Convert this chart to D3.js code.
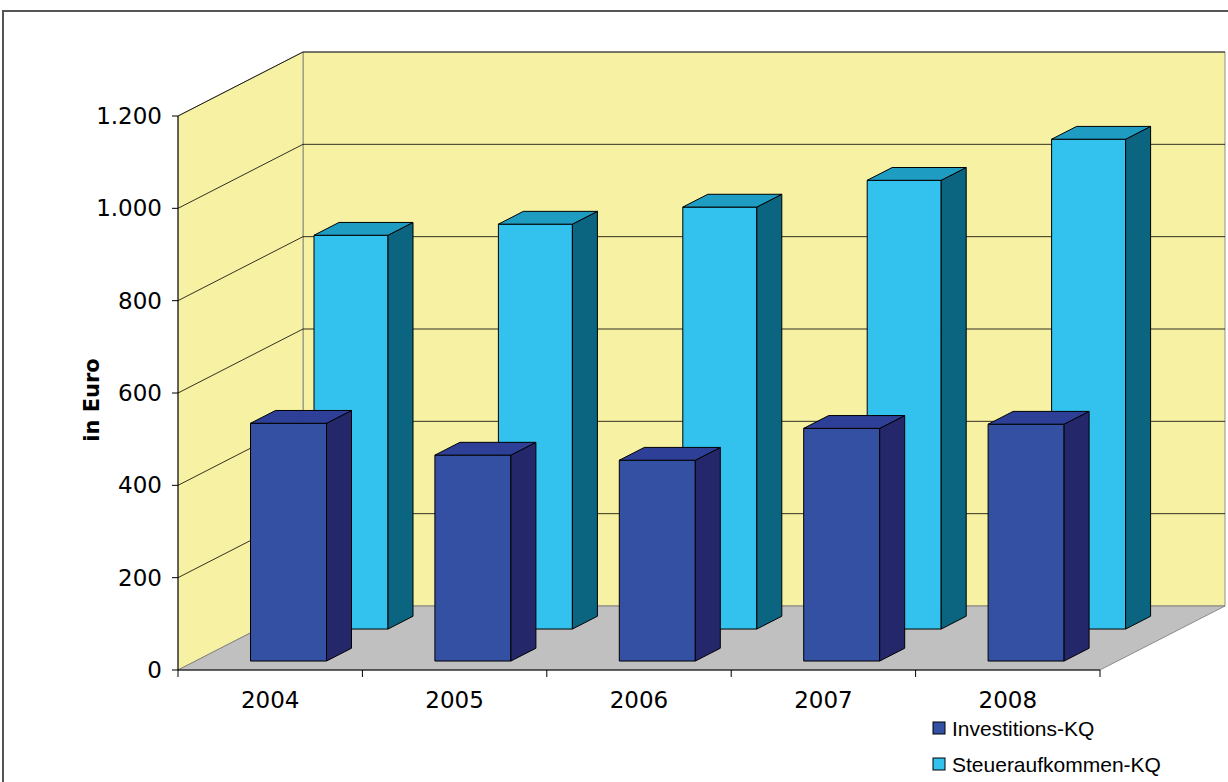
<!DOCTYPE html>
<html><head><meta charset="utf-8">
<script src="https://cdn.jsdelivr.net/npm/d3@7"></script>
<style>body{margin:0;background:#fff}</style>
</head><body>
<svg id="c" width="1228" height="782"></svg>
<script>
var years = ['2004', '2005', '2006', '2007', '2008'];
var investitionsKQ = [515, 446, 435, 504, 513];
var steuerKQ = [853, 877, 914, 972, 1061];
var yTicks = [0, 200, 400, 600, 800, 1000, 1200];
var seriesNames = ['Investitions-KQ', 'Steueraufkommen-KQ'];

var svg = d3.select('#c');
var DX = 125, DY = -64;
var x = d3.scaleBand().domain(years).range([178, 1100]).padding(0);
var y = d3.scaleLinear().domain([0, 1200]).range([670, 116]);
var fmt = function(v) { return d3.format(',')(v).replace(/,/g, '.'); };

// project (screen x at front, value, depth 0..1)
function P(px, v, z) { return [px + z * DX, y(v) + z * DY]; }
function poly(pts, fill) {
    svg.append('polygon').attr('points', pts.map(function(p) { return p.join(','); }).join(' '))
        .attr('fill', fill).attr('stroke', '#000').attr('stroke-width', 1);
}

// frame
svg.append('rect').attr('x', 3).attr('y', 11).attr('width', 1240).attr('height', 800)
    .attr('fill', 'none').attr('stroke', '#555').attr('stroke-width', 2);

// walls
poly([P(178, 0, 1), P(178, 1200, 1), P(1225 - DX, 1200, 1), P(1225 - DX, 0, 1)], '#f6f1a3');
poly([P(178, 0, 0), P(178, 1200, 0), P(178, 1200, 1), P(178, 0, 1)], '#f6f1a3');
poly([P(178, 0, 0), P(1100, 0, 0), P(1100, 0, 1), P(178, 0, 1)], '#c0c0c0');
svg.selectAll('polygon').attr('stroke', '#777').attr('stroke-width', 0.8);

// gridlines
yTicks.slice(1).forEach(function(t) {
    var a = P(178, t, 0), b = P(178, t, 1), c = P(1100, t, 1);
    svg.append('polyline').attr('points', [a, b, c].map(function(p) { return p.join(','); }).join(' '))
        .attr('fill', 'none').attr('stroke', '#000').attr('stroke-width', 0.8);
});

// axes
var ax = svg.append('g');
ax.append('line').attr('x1', 178).attr('x2', 178).attr('y1', y(1200)).attr('y2', y(0)).attr('stroke', '#000');
ax.append('line').attr('x1', 178).attr('x2', 1100).attr('y1', y(0)).attr('y2', y(0)).attr('stroke', '#000');
yTicks.forEach(function(t) {
    ax.append('line').attr('x1', 172).attr('x2', 178).attr('y1', y(t)).attr('y2', y(t)).attr('stroke', '#000');
    ax.append('text').attr('x', 162).attr('y', y(t) + 8).attr('text-anchor', 'end')
        .attr('font-family', 'DejaVu Sans').attr('font-size', 23).text(fmt(t));
});
years.concat(['end']).forEach(function(yr, i) {
    var px = 178 + i * x.bandwidth();
    ax.append('line').attr('x1', px).attr('x2', px).attr('y1', 670).attr('y2', 677).attr('stroke', '#000');
});
years.forEach(function(yr) {
    ax.append('text').attr('x', x(yr) + x.bandwidth() / 2).attr('y', 708).attr('text-anchor', 'middle')
        .attr('font-family', 'DejaVu Sans').attr('font-size', 23).text(yr);
});
svg.append('text').attr('transform', 'translate(99,400) rotate(-90)').attr('text-anchor', 'middle')
    .attr('font-family', 'DejaVu Sans').attr('font-weight', 'bold').attr('font-size', 21).text('in Euro');

function bar(px, w, v, z0, z1, cols) {
    poly([P(px, 0, z0), P(px + w, 0, z0), P(px + w, v, z0), P(px, v, z0)], cols[0]);
    poly([P(px + w, 0, z0), P(px + w, 0, z1), P(px + w, v, z1), P(px + w, v, z0)], cols[1]);
    poly([P(px, v, z0), P(px + w, v, z0), P(px + w, v, z1), P(px, v, z1)], cols[2]);
}
var cyan = ['#33c1ed', '#0b6480', '#1f9cc2'];
var dark = ['#3350a3', '#25276b', '#2d3f96'];
years.forEach(function(yr, i) {
    bar(x(yr) + 56, 74, steuerKQ[i], 0.64, 0.84, cyan);
});
years.forEach(function(yr, i) {
    bar(x(yr) + 55, 76, investitionsKQ[i], 0.14, 0.34, dark);
});

// legend
[[dark[0], 731], [cyan[0], 767]].forEach(function(d, i) {
    svg.append('rect').attr('x', 933).attr('y', d[1] - 9).attr('width', 12).attr('height', 12)
        .attr('fill', d[0]).attr('stroke', '#000');
    svg.append('text').attr('x', 952).attr('y', d[1] + 5).attr('font-family', 'Liberation Sans')
        .attr('font-size', 21).text(seriesNames[i]);
});
</script>
</body></html>
